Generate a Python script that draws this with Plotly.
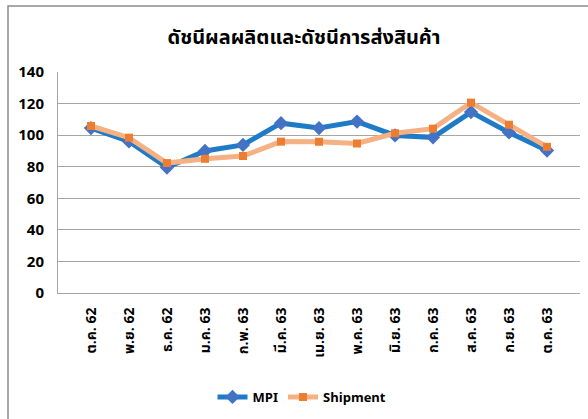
import plotly.graph_objects as go

categories = ["ต.ค. 62", "พ.ย. 62", "ธ.ค. 62", "ม.ค. 63", "ก.พ. 63", "มี.ค. 63", "เม.ย. 63",
              "พ.ค. 63", "มิ.ย. 63", "ก.ค. 63", "ส.ค. 63", "ก.ย. 63", "ต.ค. 63"]
mpi = [104.5, 96.0, 79.5, 90.0, 93.8, 107.6, 104.5, 108.6, 99.8, 98.6, 114.6, 101.7, 90.2]
shipment = [105.8, 98.4, 82.3, 85.0, 86.8, 95.9, 95.8, 94.7, 101.2, 104.1, 120.6, 106.6, 92.6]
y_ticks = [0, 20, 40, 60, 80, 100, 120, 140]
title_text = "ดัชนีผลผลิตและดัชนีการส่งสินค้า"

FONT = "Noto Sans Thai, Loma, Tahoma, Noto Sans, DejaVu Sans, sans-serif"

fig = go.Figure()
fig.add_trace(go.Scatter(
    x=categories, y=mpi, name="MPI", mode="lines+markers",
    line=dict(color="#1F7BC6", width=5),
    marker=dict(symbol="diamond", size=11, color="#4472C4"),
))
fig.add_trace(go.Scatter(
    x=categories, y=shipment, name="Shipment", mode="lines+markers",
    line=dict(color="#F5B183", width=5),
    marker=dict(symbol="square", size=8, color="#ED7D31"),
))

L, R, T, B = 58, 8, 72, 126
W, H = 588, 419
pw, ph = W - L - R, H - T - B

fig.update_layout(
    width=W, height=H,
    margin=dict(l=L, r=R, t=T, b=B),
    paper_bgcolor="white", plot_bgcolor="white",
    font=dict(family=FONT, color="#000000"),
    title=dict(text=title_text, x=304 / W, xref="container", xanchor="center",
               y=1 - 37 / H, yref="container", yanchor="middle",
               font=dict(size=20, color="#000000", family=FONT, weight="bold")),
    showlegend=True,
    legend=dict(orientation="h", x=302 / W, xanchor="center", xref="container",
                y=1 - 397 / H, yref="container", yanchor="middle",
                font=dict(size=13, color="#000000", family=FONT, weight="bold"),
                bgcolor="rgba(0,0,0,0)"),
    xaxis=dict(type="category", tickangle=-90, showgrid=False,
               showline=True, linecolor="#A6A6A6", linewidth=1,
               ticks="", ticklabelstandoff=8,
               tickfont=dict(size=14, color="#000000", family=FONT, weight="bold")),
    yaxis=dict(range=[0, 140], tickvals=y_ticks, showgrid=True, gridcolor="#A6A6A6",
               gridwidth=1, showline=True, linecolor="#A6A6A6", linewidth=1,
               zeroline=False, ticks="", ticklabelstandoff=10,
               tickfont=dict(size=15, color="#000000", family=FONT, weight="bold")),
    shapes=[dict(type="rect", xref="paper", yref="paper",
                 x0=(8 - L) / pw, x1=(W + 20 - L) / pw,
                 y0=(T + ph - (H + 20)) / ph, y1=(T + ph - 6) / ph,
                 line=dict(color="#8C8C8C", width=1.5), fillcolor="rgba(0,0,0,0)",
                 layer="below")],
)

fig.write_html("out.html", config={"displayModeBar": False},
               post_script="document.body.style.margin='0';")
